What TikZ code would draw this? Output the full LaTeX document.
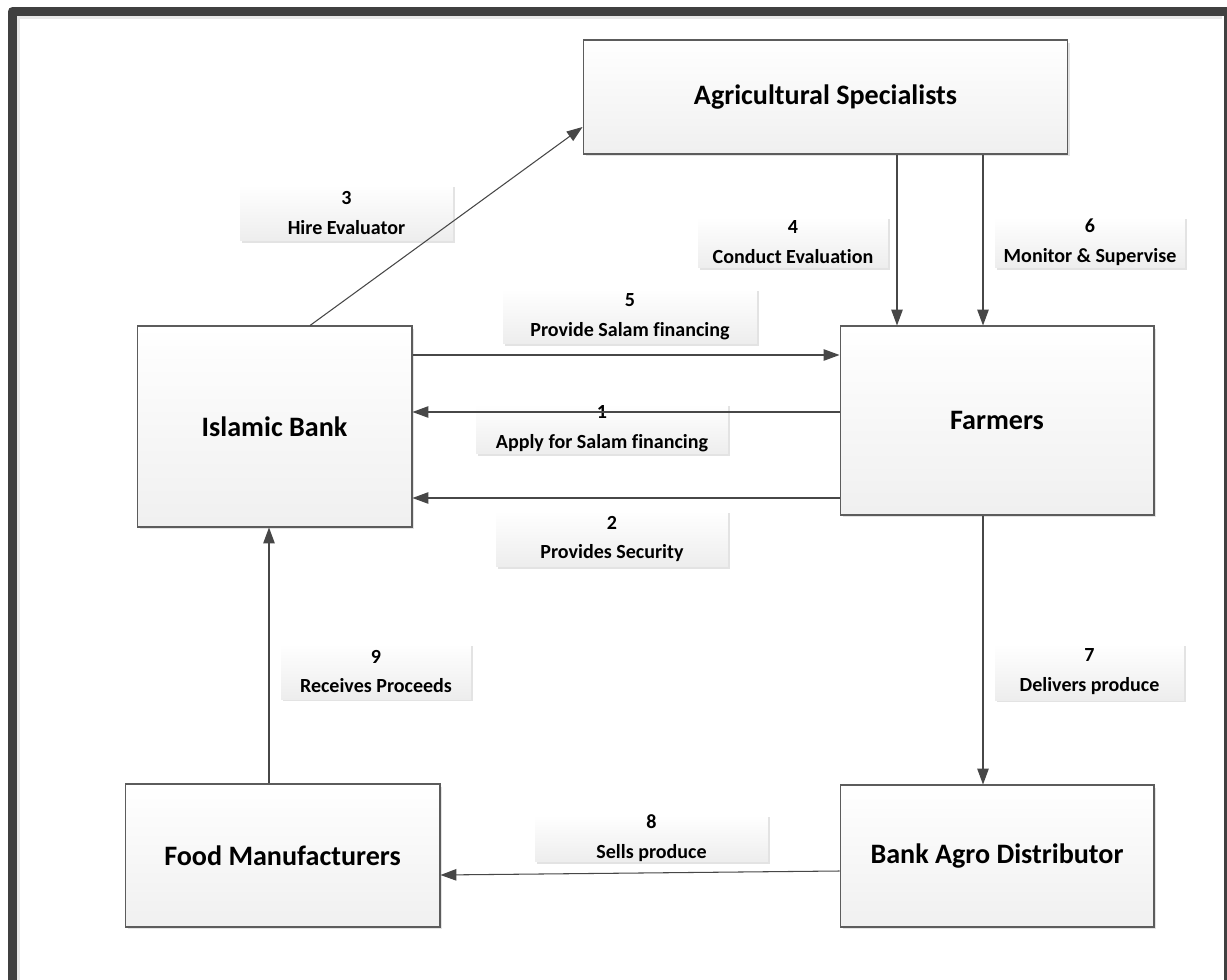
\documentclass[tikz,border=0pt]{standalone}
\usepackage{fontspec}
\setmainfont{Carlito}[Ligatures=NoCommon]
\usetikzlibrary{arrows.meta,shadows,calc}
\definecolor{framecol}{HTML}{404040}
\definecolor{edgecol}{HTML}{5C5C5C}
\definecolor{arrcol}{HTML}{474747}
\tikzset{
  mainbox/.style={draw=edgecol, line width=0.6pt, top color=white, bottom color=black!6,
    font=\fontsize{16}{19}\selectfont\bfseries, inner sep=0pt,
    drop shadow={shadow xshift=0.05cm, shadow yshift=-0.05cm, fill=black!11, opacity=1}},
  labelbox/.style={draw=none, top color=white, bottom color=black!7,
    font=\fontsize{11.4}{17}\selectfont\bfseries, align=center, inner sep=0pt,
    drop shadow={shadow xshift=0.04cm, shadow yshift=-0.04cm, fill=black!11, opacity=1}},
  flow/.style={draw=arrcol, line width=0.6pt, -{Triangle[length=9pt,width=6.5pt]}}
}
\begin{document}
\begin{tikzpicture}[x=0.02cm,y=-0.02cm]
\useasboundingbox (0,0) rectangle (1227,980);
\clip (0,0) rectangle (1227,980);
\fill[white] (0,0) rectangle (1227,980);
% frame
\draw[black!9, line width=1.7pt] (18.5,1000) -- (18.5,17.5) -- (1222,17.5);
\draw[framecol, line width=5.1pt, line join=round] (12.5,1000) -- (12.5,11.5) -- (1228,11.5) -- (1228,1000);

% main boxes
\node[mainbox, minimum width=9.7cm, minimum height=2.28cm] (ag) at (825.5,97) {Agricultural Specialists};
\node[mainbox, minimum width=5.5cm, minimum height=4.02cm] (ib) at (274.5,426.5) {Islamic Bank};
\node[mainbox, minimum width=6.28cm, minimum height=3.78cm] (fa) at (997,420.5) {Farmers};
\node[mainbox, minimum width=6.3cm, minimum height=2.86cm] (fm) at (282.5,855.5) {Food Manufacturers};
\node[mainbox, minimum width=6.28cm, minimum height=2.84cm] (bad) at (997,856) {Bank Agro Distributor};

% label boxes
\node[labelbox, minimum width=4.26cm, minimum height=1.12cm] (l3) at (346.5,213) {3\\Hire Evaluator};
\node[labelbox, minimum width=3.8cm, minimum height=1.02cm] (l4) at (793,242.5) {4\\Conduct Evaluation};
\node[labelbox, minimum width=3.8cm, minimum height=1.02cm] (l6) at (1090,242.5) {6\\Monitor \& Supervise};
\node[labelbox, minimum width=5.08cm, minimum height=1.1cm] (l5) at (630,316.5) {5\\Provide Salam financing};
\node[labelbox, minimum width=5.04cm, minimum height=1.0cm] (l1) at (602,429) {1\\Apply for Salam financing};
\node[labelbox, minimum width=4.64cm, minimum height=1.12cm] (l2) at (612,539) {2\\Provides Security};
\node[labelbox, minimum width=3.8cm, minimum height=1.1cm] (l9) at (376,671.5) {9\\Receives Proceeds};
\node[labelbox, minimum width=3.78cm, minimum height=1.12cm] (l7) at (1089.5,672) {7\\Delivers produce};
\node[labelbox, minimum width=4.66cm, minimum height=0.9cm] (l8) at (651.5,838.5) {8\\Sells produce};

% connectors
\draw[flow] (310,0 |- ib.north) -- (ag.west |- 0,127);
\draw[flow] (897,0 |- ag.south) -- (897,0 |- fa.north);
\draw[flow] (983,0 |- ag.south) -- (983,0 |- fa.north);
\draw[flow] (ib.east |- 0,355) -- (fa.west |- 0,355);
\draw[flow] (fa.west |- 0,412) -- (ib.east |- 0,412);
\draw[flow] (fa.west |- 0,498) -- (ib.east |- 0,498);
\draw[flow] (983,0 |- fa.south) -- (983,0 |- bad.north);
\draw[flow] (bad.west |- 0,871) -- (fm.east |- 0,875);
\draw[flow] (269,0 |- fm.north) -- (269,0 |- ib.south);
\end{tikzpicture}
\end{document}
